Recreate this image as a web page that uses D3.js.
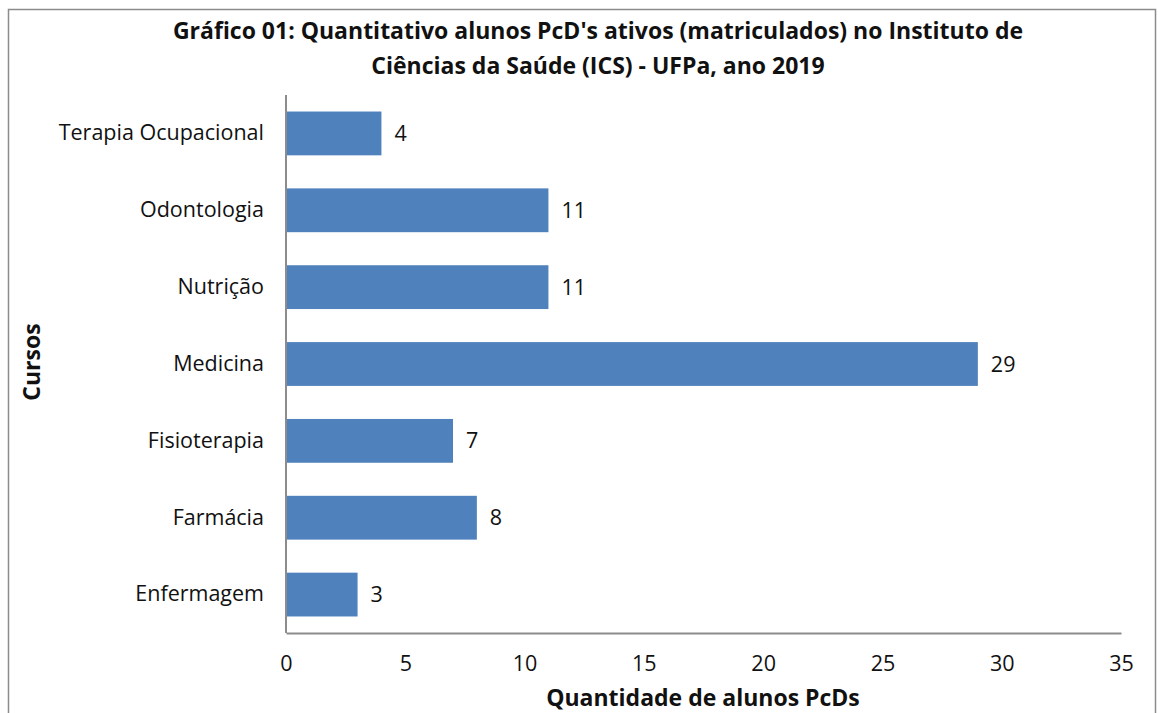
<!DOCTYPE html>
<html>
<head>
<meta charset="utf-8">
<script src="https://cdn.jsdelivr.net/npm/d3@7"></script>
<style>
  body { margin: 0; background: #fff; }
  svg { display: block; font-family: "Open Sans", Lato, sans-serif; }
</style>
</head>
<body>
<svg id="chart"></svg>
<script>
const width = 1158;
const height = 713;

// data
const cursos = ["Terapia Ocupacional", "Odontologia", "Nutrição", "Medicina", "Fisioterapia", "Farmácia", "Enfermagem"];
const alunos = [4, 11, 11, 29, 7, 8, 3];
const xTicks = [0, 5, 10, 15, 20, 25, 30, 35];

const margin = { top: 95, right: 37, bottom: 80, left: 286 };
const font = "'Open Sans', Lato, sans-serif";

const svg = d3.select("#chart")
    .attr("width", width)
    .attr("height", height);

// outer frame
svg.append("rect")
    .attr("x", 8.5).attr("y", 9.5)
    .attr("width", 1147).attr("height", 720)
    .attr("fill", "none")
    .attr("stroke", "#8c8c8c")
    .attr("stroke-width", 1.5);

const x = d3.scaleLinear()
    .domain([0, 35])
    .range([margin.left, width - margin.right]);

const y = d3.scaleBand()
    .domain(cursos)
    .range([margin.top, height - margin.bottom])
    .paddingInner(0.43)
    .paddingOuter(0.215);

const g = svg.append("g");

g.selectAll("rect.bar")
    .data(cursos)
    .enter().append("rect")
    .attr("class", "bar")
    .attr("x", x(0))
    .attr("y", d => y(d))
    .attr("width", (d, i) => x(alunos[i]) - x(0))
    .attr("height", y.bandwidth())
    .attr("fill", "#4f81bd");

g.selectAll("text.val")
    .data(cursos)
    .enter().append("text")
    .attr("class", "val")
    .attr("x", (d, i) => x(alunos[i]) + 13)
    .attr("y", d => y(d) + y.bandwidth() / 2)
    .attr("dy", "0.35em")
    .attr("font-size", 21.5)
    .attr("fill", "#111")
    .text((d, i) => alunos[i]);

// axes
const xAxis = d3.axisBottom(x).tickValues(xTicks).tickSize(0).tickPadding(23);
const gx = svg.append("g")
    .attr("transform", `translate(0,${height - margin.bottom})`)
    .call(xAxis)
    .attr("font-family", font)
    .attr("font-size", 21.5);
gx.select(".domain").attr("stroke", "#8c8c8c").attr("stroke-width", 2);
gx.selectAll("text").attr("fill", "#111");

const yAxis = d3.axisLeft(y).tickSize(0).tickPadding(22);
const gy = svg.append("g")
    .attr("transform", `translate(${margin.left},0)`)
    .call(yAxis)
    .attr("font-family", font)
    .attr("font-size", 21.5);
gy.select(".domain").attr("d", `M0,${margin.top}V${height - margin.bottom}`)
    .attr("stroke", "#8c8c8c").attr("stroke-width", 2);
gy.selectAll("text").attr("fill", "#111");

// title
const title = svg.append("text")
    .attr("text-anchor", "middle")
    .attr("font-size", 23)
    .attr("font-weight", "bold")
    .attr("fill", "#111");
title.append("tspan").attr("x", 598).attr("y", 39)
    .text("Gráfico 01: Quantitativo alunos PcD's ativos (matriculados) no Instituto de");
title.append("tspan").attr("x", 598).attr("y", 74)
    .text("Ciências da Saúde (ICS) - UFPa, ano 2019");

svg.append("text")
    .attr("x", 703).attr("y", 706)
    .attr("text-anchor", "middle")
    .attr("font-size", 23)
    .attr("font-weight", "bold")
    .attr("fill", "#111")
    .text("Quantidade de alunos PcDs");

svg.append("text")
    .attr("transform", "translate(40,362) rotate(-90)")
    .attr("text-anchor", "middle")
    .attr("font-size", 23)
    .attr("font-weight", "bold")
    .attr("fill", "#111")
    .text("Cursos");
</script>
</body>
</html>
